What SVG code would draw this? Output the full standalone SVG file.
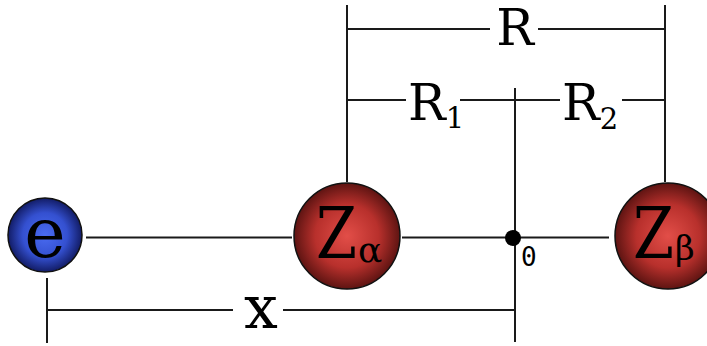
<svg xmlns="http://www.w3.org/2000/svg" width="707" height="346" viewBox="0 0 707 346">
<defs>
<radialGradient id="red" cx="0.5" cy="0.5" r="0.5">
<stop offset="0" stop-color="#e24e48"/>
<stop offset="0.6" stop-color="#b8302c"/>
<stop offset="1" stop-color="#5e1412"/>
</radialGradient>
<radialGradient id="blue" cx="0.5" cy="0.5" r="0.5">
<stop offset="0" stop-color="#4a6cf2"/>
<stop offset="0.6" stop-color="#3450d0"/>
<stop offset="1" stop-color="#121c66"/>
</radialGradient>
<style>
.ln{stroke:#1a1a1a;stroke-width:2;fill:none}
.ball{stroke:#111;stroke-width:1.5}
.t{font-family:"DejaVu Serif",serif;fill:#000}
.mono{font-family:"DejaVu Sans Mono",monospace;fill:#000}
</style>
</defs>
<rect width="707" height="346" fill="#fff"/>
<g id="connectors">
<line class="ln" x1="86" y1="237.5" x2="292" y2="237.5"/>
<line class="ln" x1="402" y1="237.5" x2="609" y2="237.5"/>
<line class="ln" x1="347" y1="5" x2="347" y2="182"/>
<line class="ln" x1="665" y1="5" x2="665" y2="182"/>
<line class="ln" x1="347" y1="29" x2="490" y2="29"/>
<line class="ln" x1="538" y1="29" x2="665" y2="29"/>
<line class="ln" x1="347" y1="100" x2="406" y2="100"/>
<line class="ln" x1="460" y1="100" x2="560" y2="100"/>
<line class="ln" x1="622" y1="100" x2="665" y2="100"/>
<line class="ln" x1="515" y1="88" x2="515" y2="342"/>
<line class="ln" x1="47" y1="278" x2="47" y2="343"/>
<line class="ln" x1="47" y1="310" x2="233" y2="310"/>
<line class="ln" x1="283" y1="310" x2="515" y2="310"/>
</g>
<g id="node-e">
<circle class="ball" cx="45" cy="235" r="37" fill="url(#blue)"/>
<text class="t" x="45" y="257" font-size="70" text-anchor="middle">e</text>
</g>
<g id="node-za">
<circle class="ball" cx="347" cy="236" r="53" fill="url(#red)"/>
<text class="t" transform="translate(316,258) scale(0.83,1)" font-size="71">Z</text>
<text class="t" x="358" y="262" font-size="36">α</text>
</g>
<g id="node-zb">
<circle class="ball" cx="668" cy="236" r="53" fill="url(#red)"/>
<text class="t" transform="translate(633,258) scale(0.83,1)" font-size="71">Z</text>
<text class="t" x="675" y="260" font-size="34">β</text>
</g>
<g id="origin">
<circle cx="513" cy="238" r="8" fill="#000"/>
<text class="mono" x="521" y="266" font-size="26">0</text>
</g>
<g id="labels">
<text class="t" x="515" y="45" font-size="50" text-anchor="middle">R</text>
<text class="t" x="408" y="120" font-size="50">R<tspan font-size="29" dy="8">1</tspan></text>
<text class="t" x="562" y="120" font-size="50">R<tspan font-size="29" dy="9">2</tspan></text>
<text class="t" x="261" y="328" font-size="60" text-anchor="middle">x</text>
</g>
</svg>
